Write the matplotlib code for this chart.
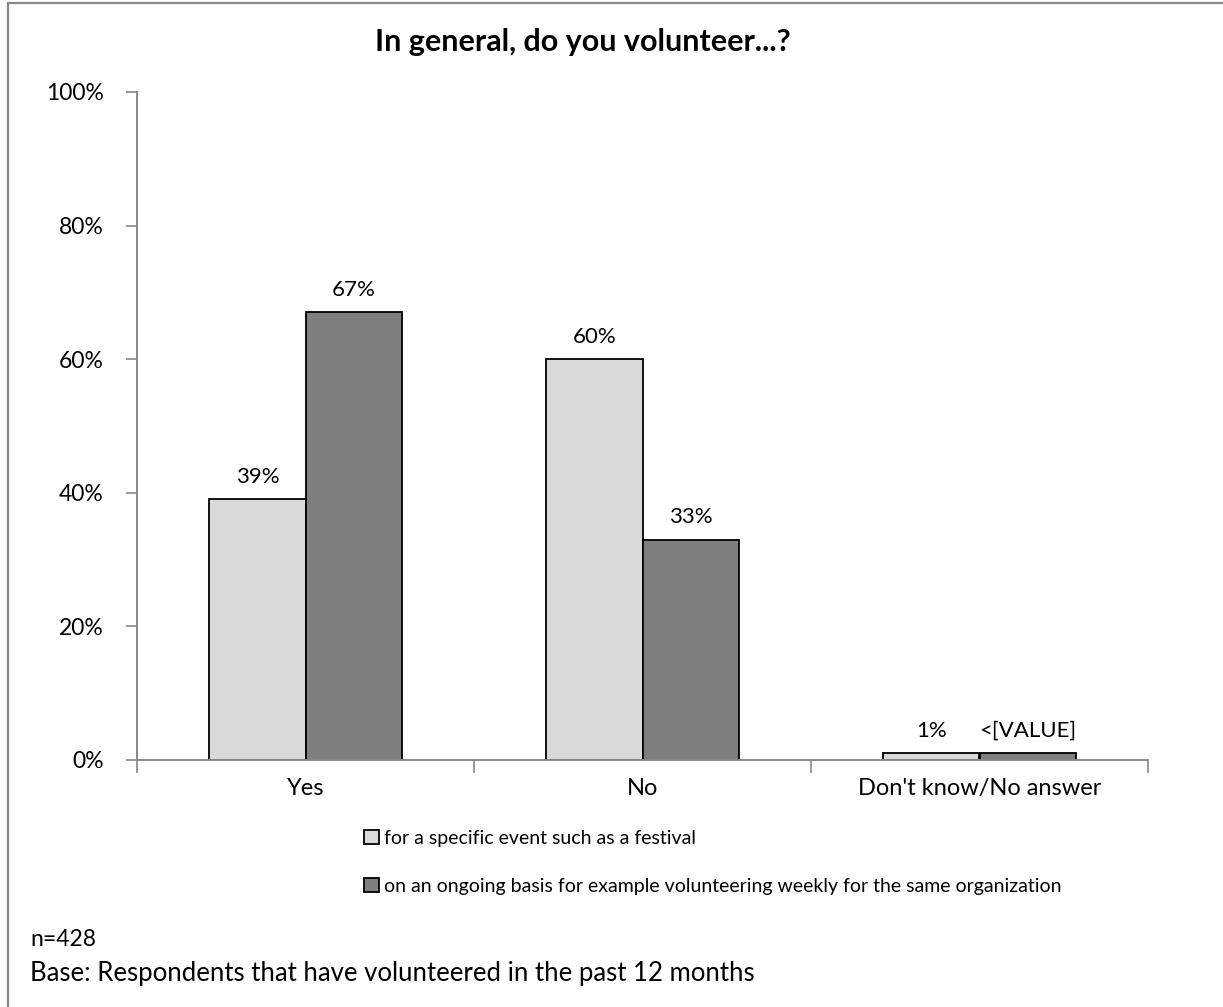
import matplotlib
matplotlib.use("Agg")
import matplotlib.pyplot as plt
from matplotlib.patches import Rectangle
import numpy as np

plt.rcParams['font.family'] = ['Lato', 'DejaVu Sans']

categories = ["Yes", "No", "Don't know/No answer"]
series_names = ["for a specific event such as a festival",
                "on an ongoing basis for example volunteering weekly for the same organization"]
event_vals = [39, 60, 1]
ongoing_vals = [67, 33, 1]
event_labels = ["39%", "60%", "1%"]
ongoing_labels = ["67%", "33%", "<[VALUE]"]
yticks = [0, 20, 40, 60, 80, 100]
ytick_labels = ["0%", "20%", "40%", "60%", "80%", "100%"]
title = "In general, do you volunteer...?"
note1 = "n=428"
note2 = "Base: Respondents that have volunteered in the past 12 months"

W, H = 1223, 1007
fig = plt.figure(figsize=(W / 100, H / 100), dpi=100)

# outer frame
fig.add_artist(Rectangle((8 / W, -0.01), 1.2, (1007 - 3) / H + 0.01, transform=fig.transFigure,
                         fill=False, edgecolor="#888888", linewidth=1.6))

ax = fig.add_axes([137 / W, 1 - 760 / H, (1148 - 137) / W, (760 - 92) / H])
x = np.arange(len(categories))
bw = 0.285
light, dark = "#d9d9d9", "#7f7f7f"
b1 = ax.bar(x - bw / 2, event_vals, bw, color=light, edgecolor="black", linewidth=1.3,
            label=series_names[0])
b2 = ax.bar(x + bw / 2, ongoing_vals, bw, color=dark, edgecolor="black", linewidth=1.3,
            label=series_names[1])
for rects, labs in ((b1, event_labels), (b2, ongoing_labels)):
    for r, lab in zip(rects, labs):
        ax.annotate(lab, (r.get_x() + r.get_width() / 2, r.get_height()),
                    xytext=(0, 9), textcoords="offset points", ha="center", va="bottom",
                    fontsize=16, color="black")

ax.set_xlim(-0.5, len(categories) - 0.5)
ax.set_ylim(0, 100)
ax.set_yticks(yticks)
ax.set_yticklabels(ytick_labels, fontsize=16.5)
ax.set_xticks(x)
ax.set_xticklabels(categories, fontsize=17)
ax.tick_params(axis="x", length=0, pad=13)
ax.set_xticks(np.arange(len(categories) + 1) - 0.5, minor=True)
ax.tick_params(axis="x", which="minor", length=9, color="#888888", width=1.2)
ax.tick_params(axis="y", length=8, color="#888888", width=1.2, pad=16)
for s in ("top", "right"):
    ax.spines[s].set_visible(False)
for s in ("left", "bottom"):
    ax.spines[s].set_color("#888888")
    ax.spines[s].set_linewidth(1.4)

fig.text(583 / W, 1 - 42 / H, title, ha="center", va="center", fontsize=22, fontweight="bold")

leg = fig.legend(handles=[b1, b2], labels=series_names, loc="upper left",
                 bbox_to_anchor=(364 / W, 1 - 830 / H), frameon=False, fontsize=14,
                 handlelength=0.75, handleheight=0.75, handletextpad=0.3, labelspacing=1.6,
                 borderaxespad=0, borderpad=0)

fig.text(30 / W, 1 - 940 / H, note1, ha="left", va="center", fontsize=16.5)
fig.text(30 / W, 1 - 973 / H, note2, ha="left", va="center", fontsize=18.5)

fig.savefig("out.png", dpi=100)
